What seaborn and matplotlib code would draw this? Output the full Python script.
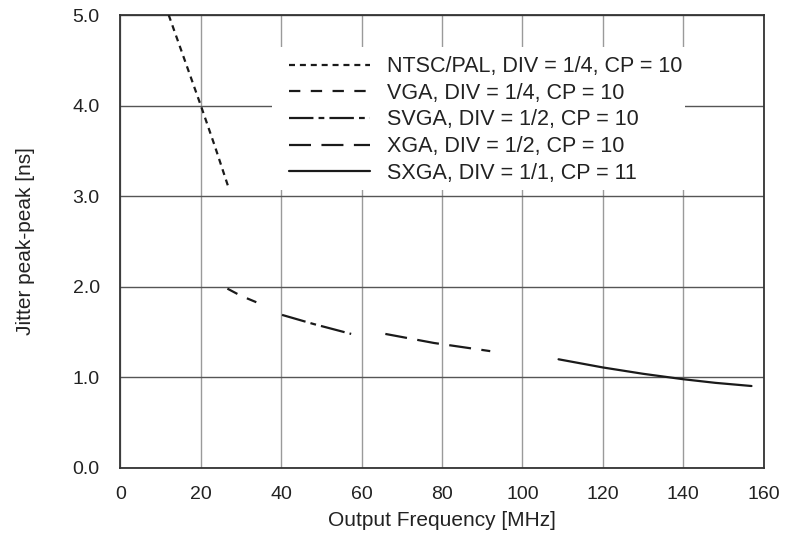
import matplotlib
matplotlib.use("Agg")
import matplotlib.pyplot as plt
from matplotlib.patches import Rectangle
import pandas as pd
import seaborn as sns

# series
labels = [
    "NTSC/PAL, DIV = 1/4, CP = 10",
    "VGA, DIV = 1/4, CP = 10",
    "SVGA, DIV = 1/2, CP = 10",
    "XGA, DIV = 1/2, CP = 10",
    "SXGA, DIV = 1/1, CP = 11",
]
ntsc_freq = [12.0, 16.0, 20.0, 23.5, 27.0]
ntsc_jitter = [5.0, 4.5, 4.0, 3.55, 3.08]
vga_freq = [26.6, 30.0, 33.8]
vga_jitter = [1.98, 1.90, 1.83]
svga_freq = [40.2, 48.0, 57.4]
svga_jitter = [1.69, 1.59, 1.48]
xga_freq = [65.9, 78.0, 92.0]
xga_jitter = [1.48, 1.38, 1.29]
sxga_freq = [109.0, 120.0, 130.0, 140.0, 148.0, 157.0]
sxga_jitter = [1.20, 1.11, 1.04, 0.98, 0.94, 0.905]

x_ticks = [0, 20, 40, 60, 80, 100, 120, 140, 160]
y_ticks = [0.0, 1.0, 2.0, 3.0, 4.0, 5.0]

freqs = [ntsc_freq, vga_freq, svga_freq, xga_freq, sxga_freq]
jitters = [ntsc_jitter, vga_jitter, svga_jitter, xga_jitter, sxga_jitter]
styles = [(0, (2.7, 2.2)), (0, (5.1, 4.7)), (0, (11, 2.3, 2.6, 2.3)),
          (0, (9.9, 4.7)), "-"]

sns.set_style("white")
plt.rcParams["font.family"] = ["Liberation Sans", "DejaVu Sans"]

fig, ax = plt.subplots(figsize=(7.9, 5.37), dpi=100)
fig.subplots_adjust(left=0.1525, right=0.9665, bottom=0.1285, top=0.972)

for label, xs, ys, ls in zip(labels, freqs, jitters, styles):
    df = pd.DataFrame({"freq": xs, "jitter": ys})
    sns.lineplot(data=df, x="freq", y="jitter", ax=ax, color="#1a1a1a",
                 linewidth=1.6, linestyle=ls, label=label, zorder=3)

ax.set_xlim(0, 160)
ax.set_ylim(0, 5)
ax.set_xticks(x_ticks)
ax.set_yticks(y_ticks)
ax.set_yticklabels([f"{v:.1f}" for v in y_ticks])
ax.xaxis.grid(True, color="#9a9a9a", linewidth=1.0)
ax.yaxis.grid(True, color="#555555", linewidth=1.0)
ax.set_axisbelow(True)
for s in ax.spines.values():
    s.set_color("#333333")
    s.set_linewidth(1.3)
ax.tick_params(labelsize=14, colors="#222222", length=0)
ax.tick_params(axis="x", pad=13)
ax.tick_params(axis="y", pad=15)
ax.set_xlabel("Output Frequency [MHz]", fontsize=15, color="#222222", labelpad=6)
ax.set_ylabel("Jitter peak-peak [ns]", fontsize=15, color="#222222", labelpad=27)

# white block behind the legend, hiding the grid
ax.add_patch(Rectangle((0.2356, 0.6137), 0.642, 0.3157, transform=ax.transAxes,
                       facecolor="white", edgecolor="none", zorder=1))

leg = ax.legend(loc="upper left", bbox_to_anchor=(0.262, 0.909), borderaxespad=0,
                frameon=False, fontsize=15.5, handlelength=3.75, handletextpad=0.82,
                labelspacing=0.26, borderpad=0)
for t in leg.get_texts():
    t.set_color("#222222")

fig.savefig("out.png", dpi=100)
